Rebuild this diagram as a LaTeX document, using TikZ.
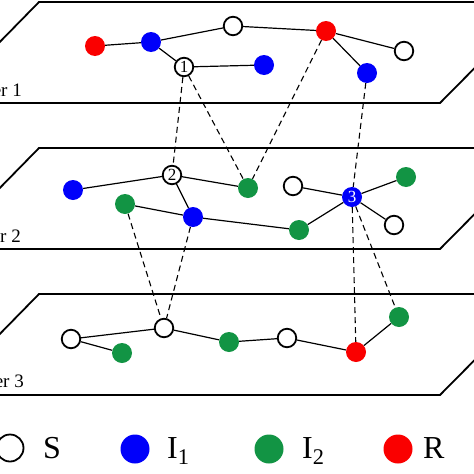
\documentclass[tikz,border=0pt]{standalone}
\usepackage{fontspec}
\setmainfont{Liberation Serif}
\definecolor{cb}{RGB}{0,0,250}
\definecolor{cg}{RGB}{18,148,68}
\definecolor{cr}{RGB}{250,0,0}
\begin{document}
\begin{tikzpicture}[x=1pt,y=-1pt,
  plane/.style={line width=1.8pt,line join=miter},
  nd/.style={circle,inner sep=0pt,minimum size=20pt,font=\fontsize{17}{17}\selectfont},
  sn/.style={nd,draw=black,line width=1.8pt,fill=white,minimum size=18.5pt},
  bn/.style={nd,fill=cb,text=white},
  gn/.style={nd,fill=cg},
  rn/.style={nd,fill=cr},
  ed/.style={line width=1.2pt},
  dd/.style={line width=1.1pt,dash pattern=on 6pt off 4pt},
  lay/.style={anchor=base east,inner sep=0pt,font=\fontsize{19}{22}\selectfont},
  leg/.style={anchor=base west,inner sep=0pt,font=\fontsize{32}{36}\selectfont}]
\useasboundingbox (0,0) rectangle (474,474);
\clip (0,0) rectangle (474,474);
\fill[white] (0,0) rectangle (474,474);
% planes
\draw[plane] (39,2) -- (540,2) -- (440,103) -- (-60,103) -- cycle;
\draw[plane] (39,148) -- (540,148) -- (440,249) -- (-60,249) -- cycle;
\draw[plane] (39,294) -- (540,294) -- (440,395) -- (-60,395) -- cycle;
\node[lay] (L1) at (22,96) {Layer 1};
\node[lay] (L2) at (21,242) {Layer 2};
\node[lay] (L3) at (24,387) {Layer 3};
% layer 1 nodes
\node[rn] (a1) at (95,46) {};
\node[bn] (a2) at (151,42) {};
\node[sn] (a3) at (233,26) {};
\node[sn] (n1) at (184,67) {1};
\node[bn] (a5) at (264,65) {};
\node[rn] (a6) at (326,31) {};
\node[sn] (a7) at (404,51) {};
\node[bn] (a8) at (367,73) {};
% layer 2 nodes
\node[bn] (b1) at (73,190) {};
\node[sn] (n2) at (172,175) {2};
\node[gn] (b3) at (248,188) {};
\node[sn] (b4) at (293,186) {};
\node[bn] (n3) at (352,197) {3};
\node[gn] (b6) at (406,177) {};
\node[sn] (b7) at (394,225) {};
\node[gn] (b8) at (125,204) {};
\node[bn] (b9) at (193,217) {};
\node[gn] (b10) at (299,230) {};
% layer 3 nodes
\node[sn] (c1) at (71,339) {};
\node[gn] (c2) at (122,353) {};
\node[sn] (c3) at (164,328) {};
\node[gn] (c4) at (229,342) {};
\node[sn] (c5) at (287,338) {};
\node[rn] (c6) at (356,352) {};
\node[gn] (c7) at (399,317) {};
% intra-layer edges
\draw[ed] (a1) -- (a2);
\draw[ed] (a2) -- (a3);
\draw[ed] (a2) -- (n1);
\draw[ed] (a3) -- (a6);
\draw[ed] (n1) -- (a5);
\draw[ed] (a6) -- (a7);
\draw[ed] (a6) -- (a8);
\draw[ed] (b1) -- (n2);
\draw[ed] (n2) -- (b3);
\draw[ed] (n2) -- (b9);
\draw[ed] (b8) -- (b9);
\draw[ed] (b9) -- (b10);
\draw[ed] (b10) -- (n3);
\draw[ed] (b4) -- (n3);
\draw[ed] (n3) -- (b6);
\draw[ed] (n3) -- (b7);
\draw[ed] (c1) -- (c3);
\draw[ed] (c1) -- (c2);
\draw[ed] (c3) -- (c4);
\draw[ed] (c4) -- (c5);
\draw[ed] (c5) -- (c6);
\draw[ed] (c6) -- (c7);
% inter-layer edges
\draw[dd] (n1) -- (n2);
\draw[dd] (n1) -- (b3);
\draw[dd] (a6) -- (b3);
\draw[dd] (a8) -- (n3);
\draw[dd] (b8) -- (c3);
\draw[dd] (b9) -- (c3);
\draw[dd] (n3) -- (c6);
\draw[dd] (n3) -- (c7);
% legend
\node[circle,draw=black,line width=1.8pt,minimum size=27pt,inner sep=0pt] (ls) at (10,448) {};
\node[leg] (ts) at (43,458) {S};
\node[circle,fill=cb,minimum size=29pt,inner sep=0pt] (lb) at (135,449) {};
\node[leg] (tb) at (167,458) {I\textsubscript{1}};
\node[circle,fill=cg,minimum size=29pt,inner sep=0pt] (lg) at (269,449) {};
\node[leg] (tg) at (302,458) {I\textsubscript{2}};
\node[circle,fill=cr,minimum size=29pt,inner sep=0pt] (lr) at (398,449) {};
\node[leg] (tr) at (423,458) {R};
\end{tikzpicture}
\end{document}
